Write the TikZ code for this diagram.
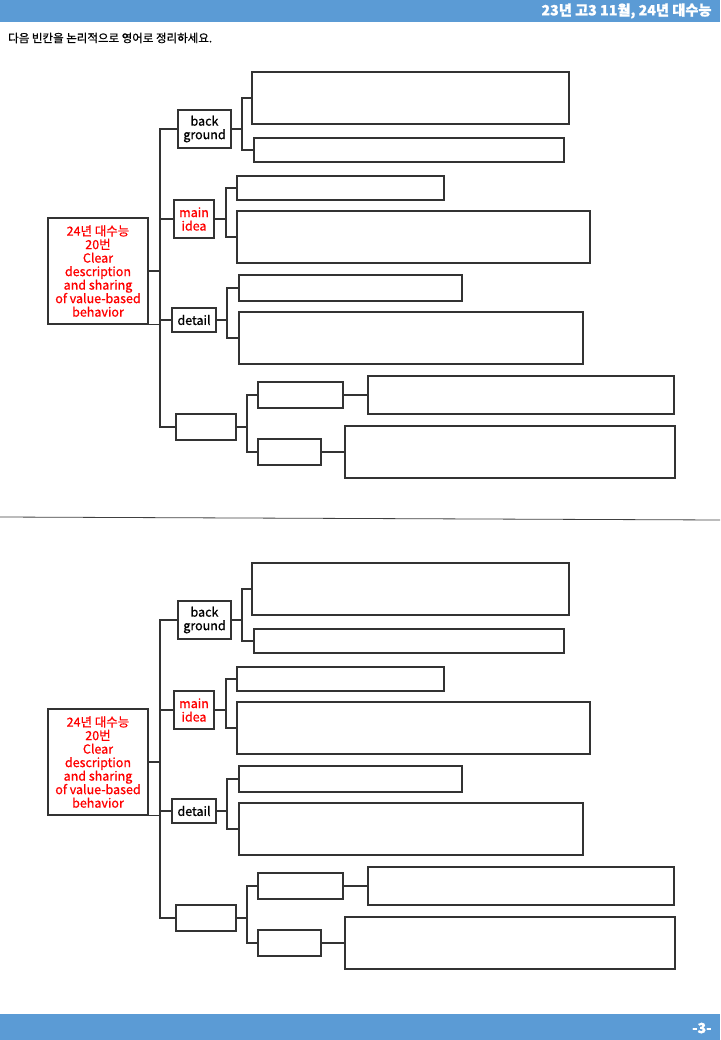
\documentclass[tikz,border=0pt]{standalone}
\usepackage{fontspec}
\newfontfamily\kr[FakeBold=0.8]{Noto Sans CJK KR}
\definecolor{headblue}{HTML}{5B9BD5}
\tikzset{
  box/.style={draw=black!80, line width=1.4pt, inner sep=0pt, align=center,
    font=\kr\fontsize{12.5}{13.5}\selectfont},
  link/.style={draw=black!80, line width=1.4pt},
}

\begin{document}
\begin{tikzpicture}[x=1pt, y=-1pt]
  \useasboundingbox (0,0) rectangle (720,1040);

  % header and footer bars
  \fill[headblue] (0,0) rectangle (720,22);
  \fill[headblue] (0,1014) rectangle (720,1040);
  \node[anchor=east, text=white, font=\kr\bfseries\fontsize{14.2}{15}\selectfont] (title) at (715,11) {23년 고3 11월, 24년 대수능};
  \node[anchor=east, text=white, font=\kr\bfseries\fontsize{14}{15}\selectfont] (page) at (715,1028) {-3-};
  \node[anchor=west, inner sep=0pt, font=\kr\fontsize{11.5}{12}\selectfont] (task) at (8,38) {다음 빈칸을 논리적으로 영어로 정리하세요.};

  % separator between the two copies
  \draw[black!75, line width=0.8pt] (0,517) -- (720,520);

  \foreach \o/\s in {0/a, 491/b} {
    \begin{scope}[shift={(0,\o)}]
      \node[box, text=red, minimum width=100pt, minimum height=106pt] (root\s) at (98,271)
        {24년 대수능\\20번\\Clear\\description\\and sharing\\of value-based\\behavior};

      % first level
      \node[box, minimum width=53pt, minimum height=38pt] (bg\s) at (204.5,129) {back\\ground};
      \node[box, text=red, minimum width=40pt, minimum height=38pt] (idea\s) at (194,219) {main\\idea};
      \node[box, minimum width=44pt, minimum height=24pt] (detail\s) at (194,320) {detail};
      \node[box, minimum width=60pt, minimum height=26pt] (blank\s) at (206,427) {};

      % answer boxes
      \node[box, minimum width=317pt, minimum height=52pt] (bgA\s) at (410.5,98) {};
      \node[box, minimum width=310pt, minimum height=24pt] (bgB\s) at (409,150) {};
      \node[box, minimum width=207pt, minimum height=24pt] (ideaA\s) at (340.5,188) {};
      \node[box, minimum width=353pt, minimum height=52pt] (ideaB\s) at (413.5,237) {};
      \node[box, minimum width=223pt, minimum height=26pt] (detailA\s) at (350.5,288) {};
      \node[box, minimum width=344pt, minimum height=52pt] (detailB\s) at (411,338) {};
      \node[box, minimum width=85pt, minimum height=26pt] (blankA\s) at (300.5,395) {};
      \node[box, minimum width=63pt, minimum height=26pt] (blankB\s) at (289.5,452) {};
      \node[box, minimum width=306pt, minimum height=38pt] (endA\s) at (521,395) {};
      \node[box, minimum width=330pt, minimum height=52pt] (endB\s) at (510,452) {};

      % joints of the brackets
      \coordinate (trunk\s) at (160,271);
      \coordinate (bgj\s) at (242,129);
      \coordinate (ideaj\s) at (226,219);
      \coordinate (detailj\s) at (227,320);
      \coordinate (blankj\s) at (247,427);

      % connectors
      \draw[link, line width=2pt] (root\s.east) -- (trunk\s);
      \draw[link] (root\s.south east) -- (trunk\s |- root\s.south east);
      \draw[link] (bg\s.west) -| (trunk\s) |- (blank\s.west);
      \draw[link] (trunk\s) |- (idea\s.west);
      \draw[link] (trunk\s) |- (detail\s.west);

      \draw[link] (bg\s.east) -- (bgj\s);
      \draw[link] (bgA\s.west) -| (bgj\s) |- (bgB\s.west);
      \draw[link] (idea\s.east) -- (ideaj\s);
      \draw[link] (ideaA\s.west) -| (ideaj\s) |- (ideaB\s.west);
      \draw[link] (detail\s.east) -- (detailj\s);
      \draw[link] (detailA\s.west) -| (detailj\s) |- (detailB\s.west);
      \draw[link] (blank\s.east) -- (blankj\s);
      \draw[link] (blankA\s.west) -| (blankj\s) |- (blankB\s.west);
      \draw[link] (blankA\s.east) -- (endA\s.west);
      \draw[link] (blankB\s.east) -- (endB\s.west);
    \end{scope}
  }
\end{tikzpicture}
\end{document}
